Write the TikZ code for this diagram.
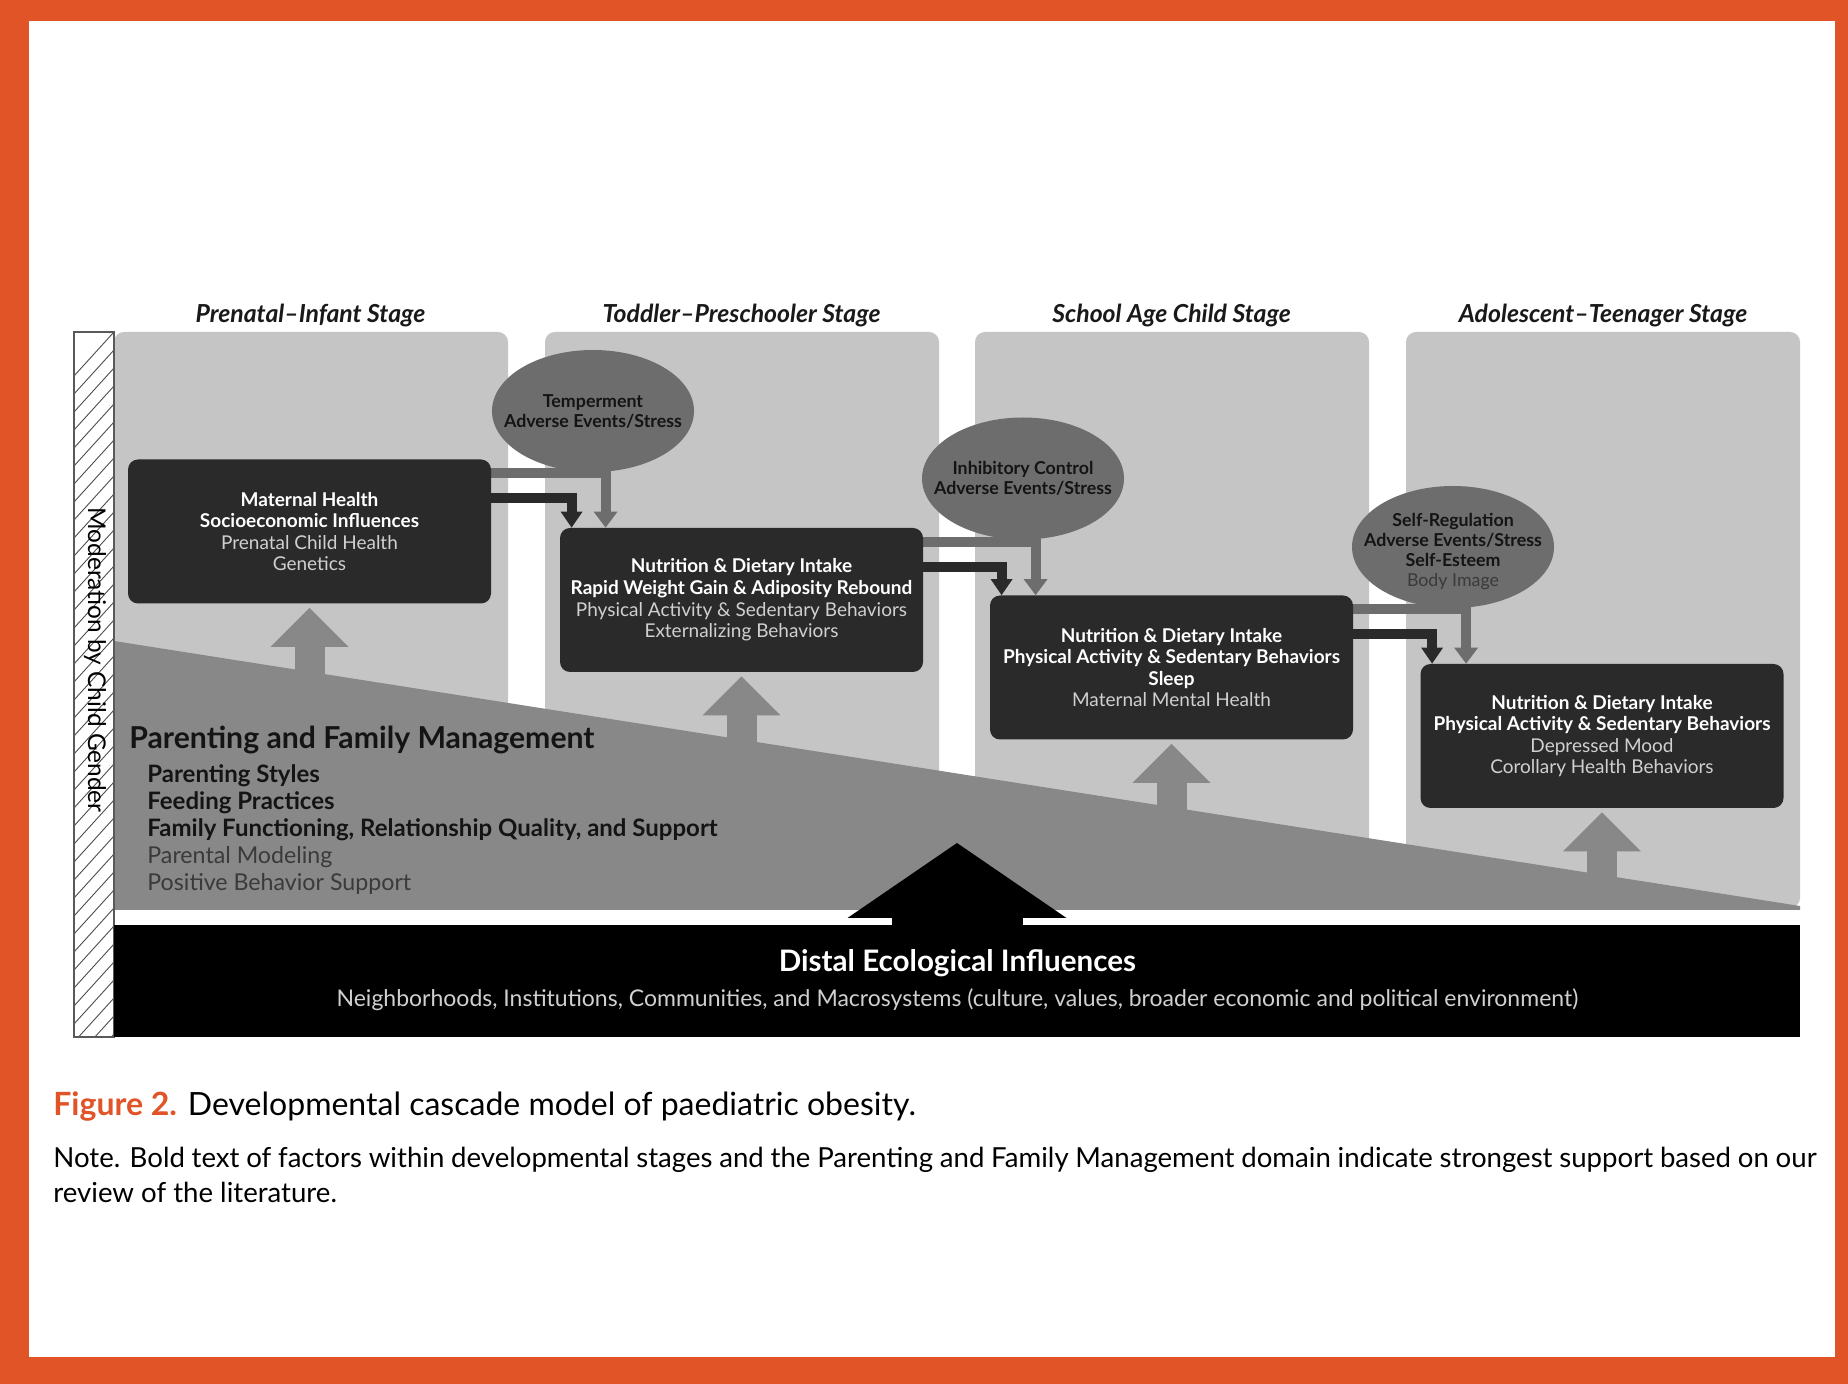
\documentclass[tikz,border=0pt]{standalone}
\usepackage{fontspec}
\setmainfont{Lato}
\usetikzlibrary{arrows.meta,shapes.geometric,calc}
\pgfdeclarelayer{bg}
\pgfsetlayers{bg,main}
\definecolor{orng}{HTML}{E05428}
\definecolor{panel}{HTML}{C5C5C5}
\definecolor{pfm}{HTML}{888888}
\definecolor{boxc}{HTML}{2A2A2A}
\definecolor{ellc}{HTML}{6D6D6D}
\definecolor{lite}{HTML}{D0D0D0}
\definecolor{subtxt}{HTML}{3A3A3A}
\begin{document}
\begin{tikzpicture}[x=0.5pt,y=-0.5pt,
  stagetitle/.style={font=\fontsize{12.4}{14}\selectfont\bfseries\itshape, text=black!90, inner sep=0pt},
  factorbox/.style={fill=boxc, rounded corners=5pt, minimum width=181.5pt, minimum height=72pt, inner sep=0pt, align=center, text=white, font=\fontsize{9.5}{10.8}\selectfont},
  modbubble/.style={ellipse, fill=ellc, minimum width=101pt, minimum height=61pt, inner sep=0pt},
  bubbletext/.style={align=center, inner sep=0pt, font=\fontsize{8.9}{10}\selectfont\bfseries, text=black!92},
  grayflow/.style={draw=ellc, line width=5pt, -{Triangle[width=12pt,length=8pt,line width=0pt]}},
  darkflow/.style={draw=boxc, line width=5pt, -{Triangle[width=11pt,length=8pt,line width=0pt]}},
  upflow/.style={draw=pfm, line width=15pt, shorten >=2pt, -{Triangle[width=39pt,length=19.5pt,line width=0pt]}},
  bigflow/.style={draw=black, line width=65.5pt, -{Triangle[width=109.5pt,length=37.5pt,line width=0pt]}},
  hatchline/.style={draw=black!70, line width=0.45pt},
  pfmbold/.style={anchor=west, inner sep=0pt, font=\fontsize{12}{14}\selectfont\bfseries, text=black!92},
  pfmplain/.style={anchor=west, inner sep=0pt, font=\fontsize{11.6}{14}\selectfont, text=subtxt},
]
\useasboundingbox (0,0) rectangle (1848,1384);

% factor boxes
\node[factorbox] (b1) at (309.5,531.5) {\textbf{Maternal Health}\\\textbf{Socioeconomic Influences}\\\textcolor{lite}{Prenatal Child Health}\\\textcolor{lite}{Genetics}};
\node[factorbox] (b2) at (741.5,600) {\textbf{Nutrition \& Dietary Intake}\\\textbf{Rapid Weight Gain \& Adiposity Rebound}\\\textcolor{lite}{Physical Activity \& Sedentary Behaviors}\\\textcolor{lite}{Externalizing Behaviors}};
\node[factorbox] (b3) at (1171.5,667.5) {\textbf{Nutrition \& Dietary Intake}\\\textbf{Physical Activity \& Sedentary Behaviors}\\\textbf{Sleep}\\\textcolor{lite}{Maternal Mental Health}};
\node[factorbox] (b4) at (1602,736) {\textbf{Nutrition \& Dietary Intake}\\\textbf{Physical Activity \& Sedentary Behaviors}\\\textcolor{lite}{Depressed Mood}\\\textcolor{lite}{Corollary Health Behaviors}};

% bubbles
\node[modbubble] (e1) at (593,411) {};
\node[modbubble] (e2) at (1023,478.5) {};
\node[modbubble] (e3) at (1453,547) {};
\node[bubbletext] (e1t) at (e1.center) {Temperment\\Adverse Events/Stress};
\node[bubbletext] (e2t) at (e2.center) {Inhibitory Control\\Adverse Events/Stress};
\node[bubbletext] (e3t) at ($(e3.center)+(0,5)$) {Self-Regulation\\Adverse Events/Stress\\Self-Esteem\\{\mdseries\color{subtxt}Body Image}};

% stage titles
\node[stagetitle] (t1) at (310.5,316) {Prenatal–Infant Stage};
\node[stagetitle] (t2) at (741.5,316) {Toddler–Preschooler Stage};
\node[stagetitle] (t3) at (1171.5,316) {School Age Child Stage};
\node[stagetitle] (t4) at (1603,316) {Adolescent–Teenager Stage};

% moderation label
\node[rotate=-90, inner sep=0pt, font=\fontsize{12.2}{14}\selectfont, text=black] (mod) at (95,660) {Moderation by Child Gender};

% distal bar
\node[fill=black, minimum width=843pt, minimum height=56pt, inner sep=0pt, anchor=north west] (distal) at (114,925) {};
\node[inner sep=0pt, text=white, font=\fontsize{14.8}{16}\selectfont\bfseries] (dt) at ($(distal.center)+(0,-18)$) {Distal Ecological Influences};
\node[inner sep=0pt, text=lite, font=\fontsize{11.5}{14}\selectfont] (ds) at ($(distal.center)+(0,18)$) {Neighborhoods, Institutions, Communities, and Macrosystems (culture, values, broader economic and political environment)};

% parenting text
\node[anchor=west, inner sep=0pt, font=\fontsize{15.1}{17}\selectfont\bfseries, text=black!92] (pt) at (129,740) {Parenting and Family Management};
\node[pfmbold] (p1) at (147,776) {Parenting Styles};
\node[pfmbold] (p2) at (147,803) {Feeding Practices};
\node[pfmbold] (p3) at (147,830) {Family Functioning, Relationship Quality, and Support};
\node[pfmplain] (p4) at (147,857) {Parental Modeling};
\node[pfmplain] (p5) at (147,884) {Positive Behavior Support};

% caption
\node[anchor=west, inner sep=0pt, font=\fontsize{16}{18}\selectfont] (cap) at (53,1107) {\textcolor{orng}{\bfseries Figure 2.} Developmental cascade model of paediatric obesity.};
\node[anchor=west, inner sep=0pt, font=\fontsize{13.8}{16}\selectfont] (note1) at (53,1160) {\makebox[881.5pt][s]{Note. Bold text of factors within developmental stages and the Parenting and Family Management domain indicate strongest support based on our}};
\node[anchor=west, inner sep=0pt, font=\fontsize{13.8}{16}\selectfont] (note2) at (53,1192) {review of the literature.};

\begin{pgfonlayer}{bg}
\fill[orng] (0,0) rectangle (1848,1384);
\fill[white] (29,21) rectangle (1835,1357);
\foreach \xa in {114,545,975,1406} \fill[panel, rounded corners=5pt] (\xa,332) rectangle ++(394,576);
\fill[pfm] (114,641) -- (1800,906) -- (1800,910) -- (114,910) -- cycle;
% hatched bar
\fill[white] (74,332) rectangle (114,1037);
\begin{scope}
\clip (74,332) rectangle (114,1037);
\foreach \k in {0,...,40} \draw[hatchline] (74,{332+\k*18+44}) -- (114,{332+\k*18});
\end{scope}
\draw[line width=0.6pt, draw=black!65] (74,332) rectangle (114,1037);
% upward arrows
\foreach \b in {b1,b2,b3,b4} {
  \coordinate (u\b) at ($(\b.south)+(0,90)$);
  \draw[upflow] (u\b) -- (\b.south);
}
% big arrow
\coordinate (bigfoot) at (957,985);
\coordinate (bigtip) at (957,843);
\draw[bigflow] (bigfoot) -- (bigtip);
% cascade connectors
\draw[grayflow] ($(b1.north east)+(-1,14)$) -| ($(b2.north west)+(46,0)$);
\draw[darkflow] ($(b1.north east)+(-1,39)$) -| ($(b2.north west)+(12,0)$);
\draw[grayflow] ($(b2.north east)+(-1,14)$) -| ($(b3.north west)+(46,0)$);
\draw[darkflow] ($(b2.north east)+(-1,39)$) -| ($(b3.north west)+(12,0)$);
\draw[grayflow] ($(b3.north east)+(-1,14)$) -| ($(b4.north west)+(46,0)$);
\draw[darkflow] ($(b3.north east)+(-1,39)$) -| ($(b4.north west)+(12,0)$);
\end{pgfonlayer}
\end{tikzpicture}
\end{document}
